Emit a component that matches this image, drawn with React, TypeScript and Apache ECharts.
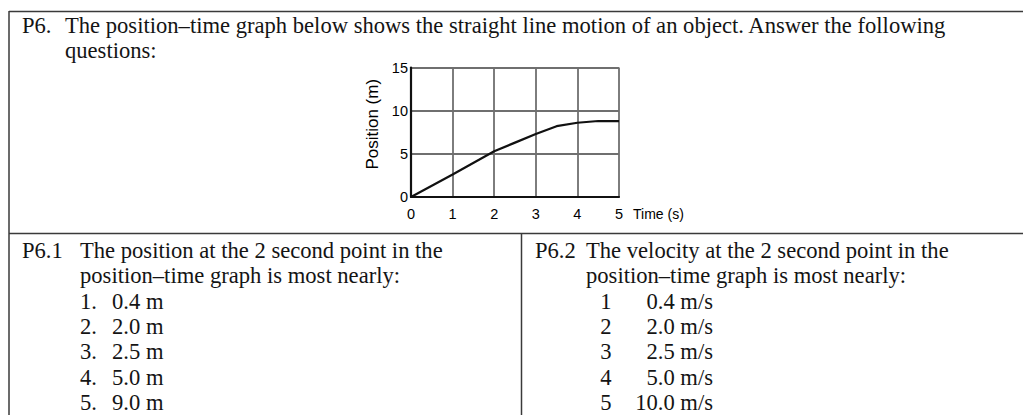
import React, { useEffect, useRef } from "react";
import * as echarts from "echarts";

// ---- chart data ----
const timeS = [0, 1, 2, 2.5, 3, 3.5, 4, 4.5, 5];
const positionM = [0, 2.6, 5.3, 6.3, 7.3, 8.2, 8.6, 8.8, 8.8];
const xMax = 5;
const yMax = 15;
const yStep = 5;
const xAxisName = "Time (s)";
const yAxisName = "Position (m)";

// ---- worksheet text ----
const headerNumber = "P6.";
const headerLines = [
  "The position\u2013time graph below shows the straight line motion of an object. Answer the following",
  "questions:",
];
const q1Number = "P6.1";
const q1Stem = ["The position at the 2 second point in the", "position\u2013time graph is most nearly:"];
const q1Keys = ["1.", "2.", "3.", "4.", "5."];
const q1Values = ["0.4 m", "2.0 m", "2.5 m", "5.0 m", "9.0 m"];
const q2Number = "P6.2";
const q2Stem = ["The velocity at the 2 second point in the", "position\u2013time graph is most nearly:"];
const q2Keys = ["1", "2", "3", "4", "5"];
const q2Values = ["0.4 m/s", "2.0 m/s", "2.5 m/s", "5.0 m/s", "10.0 m/s"];

const SERIF = '22.6px "Liberation Serif", "Times New Roman", serif';
const INK = "#141414";
const RULE = "#3a3a3a";

function txt(text: string, x: number, y: number, align: "left" | "right" | "center" = "left") {
  return {
    type: "text",
    x,
    y,
    silent: true,
    style: { text, font: SERIF, fill: INK, align, verticalAlign: "middle" },
  };
}

function rule(x1: number, y1: number, x2: number, y2: number) {
  return {
    type: "line",
    silent: true,
    shape: { x1, y1, x2, y2 },
    style: { stroke: RULE, lineWidth: 1.5 },
  };
}

export default function App() {
  const ref = useRef<HTMLDivElement>(null);

  useEffect(() => {
    if (!ref.current) return;
    const chart = echarts.init(ref.current, null, { renderer: "svg" });

    const lineGap = 25.4;
    const top1 = 250.2;
    const graphics: any[] = [];
    // frame
    graphics.push(rule(9, 11.5, 1023, 11.5));
    graphics.push(rule(9, 11, 9, 415));
    graphics.push(rule(9, 233.5, 1023, 233.5));
    graphics.push(rule(521.5, 233.5, 521.5, 415));
    // header
    graphics.push(txt(headerNumber, 22, 25.8));
    headerLines.forEach((l, i) => graphics.push(txt(l, 65, 25.8 + i * 24.6)));
    // question 1
    graphics.push(txt(q1Number, 22, top1));
    q1Stem.forEach((l, i) => graphics.push(txt(l, 80, top1 + i * lineGap)));
    q1Keys.forEach((k, i) => {
      graphics.push(txt(k, 80, top1 + (i + 2) * lineGap));
      graphics.push(txt(q1Values[i], 112, top1 + (i + 2) * lineGap));
    });
    // question 2
    graphics.push(txt(q2Number, 535, top1));
    q2Stem.forEach((l, i) => graphics.push(txt(l, 586, top1 + i * lineGap)));
    q2Keys.forEach((k, i) => {
      graphics.push(txt(k, 606, top1 + (i + 2) * lineGap, "center"));
      graphics.push(txt(q2Values[i], 713, top1 + (i + 2) * lineGap, "right"));
    });

    const sans = '"Liberation Sans", Arial, sans-serif';

    chart.setOption({
      animation: false,
      backgroundColor: "#ffffff",
      grid: { left: 411, top: 67.5, width: 208, height: 129.5, containLabel: false },
      xAxis: {
        type: "value",
        min: 0,
        max: xMax,
        interval: 1,
        name: xAxisName,
        nameLocation: "end",
        nameGap: 14,
        nameTextStyle: {
          fontFamily: sans,
          fontSize: 14,
          color: "#000",
          align: "left",
          verticalAlign: "top",
          padding: [10, 0, 0, 0],
        },
        axisLine: { show: true, onZero: false, lineStyle: { color: "#111", width: 2.2 } },
        axisTick: { show: false },
        axisLabel: { margin: 9, fontFamily: sans, fontSize: 14.5, color: "#000" },
        splitLine: { show: true, lineStyle: { color: "#6f6f6f", width: 1.8 } },
      },
      yAxis: {
        type: "value",
        min: 0,
        max: yMax,
        interval: yStep,
        name: yAxisName,
        nameLocation: "middle",
        nameRotate: 90,
        nameGap: 30,
        nameTextStyle: { fontFamily: sans, fontSize: 17, color: "#000", padding: [0, 0, 0, 16] },
        axisLine: { show: true, onZero: false, lineStyle: { color: "#111", width: 2.2 } },
        axisTick: { show: false },
        axisLabel: { margin: 3, fontFamily: sans, fontSize: 14.5, color: "#000" },
        splitLine: { show: true, lineStyle: { color: "#6f6f6f", width: 1.8 } },
      },
      series: [
        {
          type: "line",
          data: timeS.map((t, i) => [t, positionM[i]]),
          showSymbol: false,
          symbol: "none",
          lineStyle: { color: "#111", width: 2.2 },
          z: 5,
        },
      ],
      graphic: graphics,
    });

    return () => chart.dispose();
  }, []);

  return (
    <div
      ref={ref}
      style={{ position: "absolute", left: 0, top: 0, width: 1023, height: 415, background: "#fff" }}
    />
  );
}
